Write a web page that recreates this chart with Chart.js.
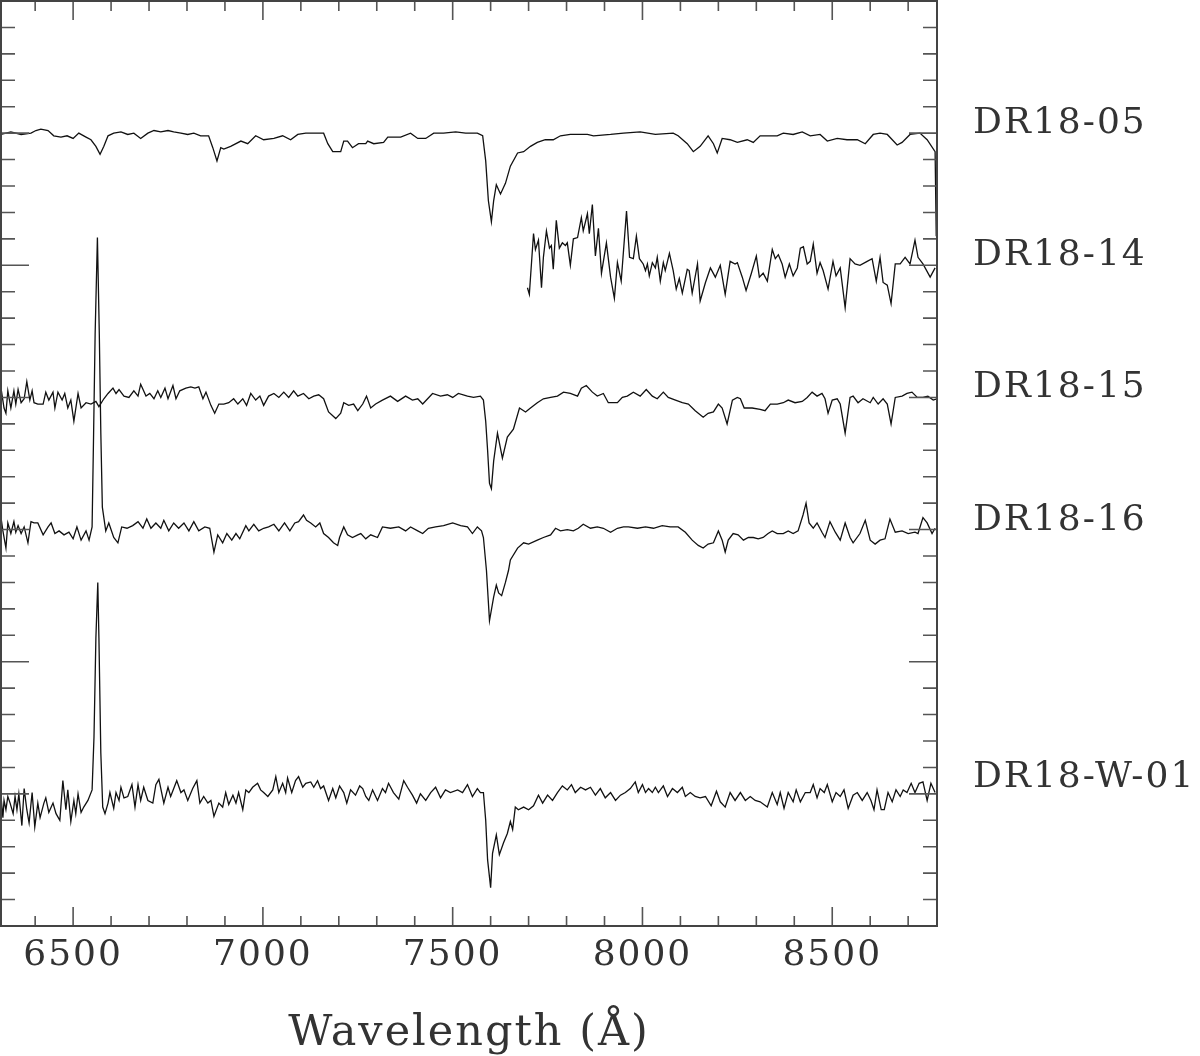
<!DOCTYPE html>
<html>
<head>
<meta charset="utf-8">
<script src="https://cdn.jsdelivr.net/npm/chart.js@4.4.1/dist/chart.umd.min.js"></script>
<style>
  html, body { margin: 0; padding: 0; background: #fff; }
  canvas { display: block; }
</style>
</head>
<body>
<canvas id="spectra" width="1200" height="1056"></canvas>
<script>
// --- spectrum names, vertical offsets and axis ticks ---
const names = ['DR18-05', 'DR18-14', 'DR18-15', 'DR18-16', 'DR18-W-01'];
const offsets = [5, 4, 3, 2, 0];
const labelLevels = [6, 5, 4, 3, 1.05];
const xTickValues = [6500, 7000, 7500, 8000, 8500];

// --- DR18-05 ---
const wl05 = [6310,6336,6363,6389,6402,6415,6434,6449,6468,6484,
  6500,6515,6534,6547,6560,6571,6581,6592,6607,6626,
  6644,6660,6678,6697,6713,6731,6750,6765,6784,6802,
  6818,6836,6847,6857,6868,6879,6889,6897,6915,6942,
  6960,6981,7002,7029,7052,7073,7092,7113,7134,7160,
  7171,7184,7205,7213,7223,7236,7252,7271,7276,7292,
  7318,7329,7363,7389,7408,7429,7450,7476,7508,7534,
  7565,7579,7587,7594,7602,7608,7615,7626,7639,7652,
  7671,7687,7705,7723,7744,7765,7784,7810,7855,7871,
  7916,7950,7994,8034,8081,8094,8118,8134,8152,8173,
  8187,8197,8210,8231,8250,8276,8292,8310,8355,8371,
  8397,8421,8442,8468,8487,8513,8539,8566,8587,8608,
  8626,8645,8671,8684,8705,8731,8750,8771,8774];
const fx05 = [0.99,1.01,0.99,1.00,1.02,1.03,1.02,0.98,0.97,0.98,
  0.96,1.00,0.97,0.95,0.90,0.84,0.90,0.98,1.00,1.01,
  0.99,1.00,0.96,1.00,1.02,1.01,1.02,1.01,1.00,0.99,
  1.00,0.98,0.98,0.98,0.89,0.79,0.89,0.88,0.90,0.94,
  0.92,0.98,0.95,0.96,0.98,0.95,0.99,1.00,1.00,1.00,
  0.92,0.86,0.86,0.94,0.94,0.89,0.92,0.92,0.94,0.92,
  0.93,0.97,0.97,1.00,0.96,0.96,1.00,1.00,1.01,1.00,
  1.00,0.98,0.79,0.49,0.33,0.49,0.61,0.54,0.62,0.75,
  0.85,0.86,0.90,0.93,0.95,0.95,0.98,0.99,0.99,0.98,
  0.99,1.00,1.01,0.99,1.00,0.98,0.92,0.86,0.90,0.98,
  0.92,0.85,0.96,0.95,0.93,0.95,0.93,0.98,0.98,1.00,
  0.99,1.01,0.98,0.99,0.94,0.96,0.95,0.95,0.92,0.99,
  1.00,0.99,0.91,0.93,0.99,1.00,0.95,0.86,0.22];

// --- DR18-14 ---
const wl14 = [7697,7702,7713,7718,7726,7734,7739,7747,7755,7760,
  7765,7773,7781,7789,7797,7802,7810,7818,7829,7839,
  7844,7855,7860,7868,7876,7884,7892,7905,7916,7926,
  7934,7944,7958,7966,7976,7984,7992,8002,8008,8013,
  8018,8026,8034,8039,8047,8055,8060,8071,8081,8089,
  8097,8105,8118,8123,8131,8145,8152,8166,8179,8192,
  8205,8218,8231,8244,8250,8263,8273,8287,8300,8308,
  8318,8329,8342,8350,8358,8368,8376,8387,8397,8408,
  8416,8424,8434,8442,8450,8460,8468,8476,8489,8502,
  8510,8521,8534,8547,8560,8573,8592,8605,8616,8626,
  8634,8645,8655,8666,8679,8692,8705,8718,8726,8739,
  8758,8771];
const fx14 = [0.83,0.78,1.24,1.12,1.19,0.83,1.06,1.26,1.13,1.15,
  0.97,1.34,1.13,1.17,1.15,1.17,1.00,1.20,1.21,1.36,
  1.26,1.39,1.24,1.46,1.07,1.28,0.94,1.17,0.91,0.75,
  1.02,0.88,1.41,1.06,1.05,1.22,1.05,1.01,0.96,1.01,
  0.92,1.02,0.98,1.06,0.88,1.02,0.96,1.09,0.96,0.82,
  0.90,0.79,0.97,0.96,0.79,1.01,0.73,0.87,0.98,0.91,
  1.00,0.78,1.03,1.01,1.02,0.91,0.81,0.94,1.07,0.91,
  0.94,0.88,1.12,1.05,1.08,1.01,0.91,1.01,0.92,0.98,
  1.13,1.14,1.01,1.03,1.16,0.94,1.02,0.96,0.82,1.03,
  0.92,0.98,0.68,1.05,1.01,1.00,1.03,1.05,0.88,1.06,
  0.87,0.85,0.71,1.01,1.01,1.06,1.01,1.19,1.06,1.01,
  0.91,0.98];

// --- DR18-15 ---
const wl15 = [6310,6318,6323,6328,6336,6344,6349,6355,6363,6371,
  6378,6386,6392,6397,6407,6421,6428,6436,6447,6452,
  6460,6471,6478,6486,6494,6502,6513,6521,6534,6547,
  6560,6568,6581,6592,6605,6613,6621,6634,6647,6660,
  6671,6678,6692,6702,6713,6723,6731,6742,6750,6763,
  6771,6781,6797,6810,6821,6831,6842,6850,6863,6873,
  6884,6897,6910,6923,6934,6947,6957,6968,6981,6992,
  7002,7015,7029,7042,7055,7068,7081,7092,7107,7121,
  7134,7147,7160,7173,7192,7205,7213,7226,7239,7250,
  7263,7273,7284,7297,7315,7336,7355,7376,7394,7408,
  7421,7434,7447,7468,7486,7500,7515,7539,7555,7573,
  7581,7587,7592,7597,7602,7608,7618,7631,7644,7660,
  7676,7692,7705,7723,7739,7758,7776,7792,7810,7829,
  7839,7852,7868,7881,7897,7910,7934,7947,7960,7976,
  7994,8010,8026,8039,8055,8068,8087,8105,8121,8139,
  8160,8173,8187,8200,8210,8223,8237,8250,8258,8268,
  8289,8310,8323,8337,8355,8371,8384,8402,8421,8434,
  8447,8460,8473,8481,8489,8500,8513,8521,8534,8547,
  8555,8568,8581,8600,8608,8621,8634,8645,8655,8666,
  8684,8697,8710,8724,8739,8752,8766,8776];
const fx15 = [1.07,0.92,0.88,1.05,0.92,1.05,0.95,1.06,0.96,0.99,
  1.12,0.98,1.05,0.96,0.95,0.95,1.04,0.98,1.04,0.92,
  1.04,0.98,1.03,0.92,0.98,0.82,1.03,0.92,0.96,0.95,
  0.97,0.93,0.99,1.03,1.07,1.03,1.06,1.01,1.00,1.05,
  1.01,1.10,1.01,1.03,0.99,1.05,1.00,1.07,0.99,1.09,
  0.99,1.05,1.07,1.08,1.07,1.08,0.99,1.04,0.94,0.88,
  0.95,0.95,0.96,0.99,0.95,0.99,0.94,1.03,0.98,1.01,
  0.94,1.01,1.03,1.00,1.04,1.00,1.05,1.01,1.03,0.99,
  1.01,1.02,0.99,0.89,0.84,0.88,0.96,0.94,0.95,0.90,
  0.95,1.01,0.92,0.95,0.98,1.01,0.97,1.01,0.98,0.99,
  0.95,0.99,1.03,1.01,1.02,1.00,1.03,1.01,1.00,1.01,
  0.98,0.82,0.60,0.35,0.31,0.52,0.73,0.54,0.70,0.76,
  0.92,0.89,0.92,0.96,0.99,1.00,1.01,1.04,1.03,1.01,
  1.07,1.09,1.04,1.01,1.03,0.96,0.96,1.00,1.01,1.04,
  1.01,1.06,1.01,0.99,1.04,1.00,0.98,0.96,0.95,0.90,
  0.85,0.88,0.89,0.95,0.92,0.80,0.98,1.00,0.99,0.92,
  0.92,0.91,0.90,0.95,0.95,0.96,0.98,0.96,0.97,1.00,
  1.04,1.01,1.03,0.99,0.88,0.98,0.99,0.95,0.73,1.00,
  1.01,0.96,0.99,0.96,1.00,0.95,0.99,0.95,0.80,1.00,
  1.01,1.03,1.04,1.00,1.00,1.01,0.98,0.99];

// --- DR18-16 ---
const wl16 = [6310,6315,6323,6328,6336,6344,6349,6355,6363,6371,
  6381,6389,6397,6407,6421,6434,6442,6452,6463,6476,
  6489,6500,6510,6521,6534,6542,6550,6554,6558,6564,
  6569,6573,6577,6586,6594,6607,6618,6628,6642,6657,
  6671,6684,6694,6705,6718,6731,6739,6752,6765,6778,
  6792,6805,6818,6831,6847,6860,6871,6881,6894,6905,
  6918,6929,6939,6955,6963,6976,6989,7002,7015,7029,
  7042,7057,7071,7084,7094,7107,7115,7126,7139,7150,
  7160,7173,7186,7197,7202,7213,7223,7236,7250,7258,
  7271,7284,7302,7315,7336,7358,7376,7389,7408,7421,
  7436,7455,7476,7500,7521,7539,7552,7565,7576,7581,
  7589,7597,7608,7615,7621,7629,7639,7647,7652,7671,
  7687,7700,7723,7739,7758,7771,7784,7802,7818,7831,
  7844,7863,7881,7897,7916,7934,7950,7963,7987,8008,
  8029,8052,8073,8094,8113,8131,8147,8160,8173,8187,
  8200,8210,8218,8226,8239,8252,8266,8279,8292,8305,
  8318,8331,8342,8355,8371,8384,8397,8410,8423,8431,
  8439,8450,8460,8473,8481,8494,8508,8521,8534,8547,
  8555,8573,8587,8600,8613,8626,8639,8652,8666,8684,
  8700,8718,8726,8739,8750,8763,8771];
const fx16 = [1.09,0.99,0.86,1.05,0.97,1.06,0.98,1.03,0.97,1.02,
  0.90,1.06,1.05,1.05,0.96,1.02,1.05,0.97,0.99,0.96,
  0.98,0.93,1.02,0.92,0.99,0.92,1.02,1.73,2.48,3.21,
  2.48,1.73,1.17,0.99,1.05,0.94,0.90,1.02,1.01,1.03,
  1.06,1.01,1.08,1.01,1.05,1.01,1.07,0.99,1.05,1.01,
  1.05,0.99,1.06,0.99,1.02,1.01,0.83,0.96,0.90,0.97,
  0.92,0.97,0.93,1.03,0.99,1.04,0.99,1.01,1.02,1.04,
  0.99,1.05,0.99,1.05,1.06,1.11,1.07,1.05,1.02,1.05,
  0.97,0.94,0.90,0.88,0.94,1.02,0.96,0.94,0.96,0.97,
  0.93,0.96,0.94,1.02,1.01,1.02,0.99,1.02,0.99,0.97,
  1.01,1.02,1.03,1.05,1.03,1.02,0.97,1.02,0.99,0.94,
  0.69,0.31,0.49,0.58,0.52,0.50,0.60,0.69,0.77,0.86,
  0.90,0.89,0.92,0.94,0.96,1.01,0.99,1.00,0.99,1.01,
  1.04,1.01,1.02,1.01,0.98,1.01,1.02,1.02,1.01,1.02,
  1.01,1.03,1.02,1.02,0.98,0.92,0.88,0.86,0.89,0.90,
  0.99,0.92,0.83,0.92,0.97,0.96,0.92,0.94,0.94,0.93,
  0.94,0.97,0.99,0.97,0.97,0.99,0.97,0.99,1.11,1.20,
  1.05,1.01,1.05,0.98,0.94,1.06,0.98,0.92,1.05,0.94,
  0.90,0.97,1.07,0.92,0.89,0.92,0.93,1.08,0.98,0.99,
  0.97,0.98,0.97,1.09,1.05,0.97,1.01];

// --- DR18-W-01 ---
const wlW01 = [6310,6315,6318,6323,6328,6334,6342,6347,6352,6357,
  6365,6371,6378,6384,6392,6399,6407,6413,6423,6428,
  6436,6447,6455,6465,6473,6481,6486,6494,6502,6507,
  6513,6521,6528,6539,6550,6555,6560,6565,6568,6573,
  6578,6584,6592,6597,6607,6613,6621,6626,6634,6644,
  6655,6663,6671,6678,6686,6697,6710,6718,6726,6739,
  6750,6757,6773,6784,6792,6802,6815,6826,6834,6844,
  6855,6863,6871,6884,6894,6902,6910,6921,6929,6936,
  6947,6955,6963,6973,6986,6994,7002,7013,7026,7034,
  7042,7052,7060,7065,7076,7086,7094,7105,7113,7126,
  7134,7144,7152,7160,7173,7184,7192,7202,7213,7221,
  7231,7244,7255,7263,7271,7279,7289,7302,7315,7323,
  7331,7344,7358,7371,7381,7394,7405,7415,7429,7442,
  7455,7468,7481,7494,7513,7526,7539,7552,7565,7573,
  7581,7587,7592,7600,7605,7615,7623,7634,7644,7652,
  7658,7665,7673,7687,7700,7713,7726,7737,7750,7763,
  7776,7789,7802,7813,7823,7837,7850,7863,7876,7889,
  7902,7916,7929,7942,7955,7968,7981,7989,8000,8008,
  8016,8026,8034,8042,8055,8066,8079,8092,8105,8113,
  8126,8139,8152,8166,8181,8195,8205,8218,8231,8244,
  8258,8271,8284,8297,8310,8329,8342,8355,8363,8373,
  8384,8397,8405,8416,8429,8442,8450,8460,8468,8479,
  8487,8500,8510,8521,8531,8542,8555,8566,8579,8592,
  8602,8610,8618,8629,8637,8647,8658,8668,8679,8687,
  8697,8708,8718,8729,8739,8750,8760,8771];
const fxW01 = [0.98,0.82,0.95,0.88,0.98,0.93,0.85,0.98,0.88,1.00,
  0.76,1.04,0.88,0.78,1.01,0.75,0.93,0.82,0.93,0.97,
  0.86,0.93,0.85,0.80,1.10,0.88,1.03,0.79,0.95,0.85,
  1.00,0.86,0.90,0.95,1.03,1.43,2.18,2.60,2.18,1.31,
  0.90,0.85,0.93,1.01,0.89,1.01,0.95,1.05,0.97,0.98,
  1.07,0.90,1.07,0.95,1.05,0.95,0.93,1.07,1.11,0.93,
  1.05,0.98,1.10,1.01,1.03,0.95,1.04,1.10,0.93,0.98,
  0.93,0.95,0.83,0.93,0.90,1.01,0.92,0.99,0.93,1.01,
  0.88,1.03,1.01,1.05,1.08,1.03,1.01,0.98,1.03,1.13,
  1.01,1.08,1.01,1.12,1.01,1.10,1.13,1.05,1.08,1.09,
  1.05,1.10,1.04,1.06,0.95,1.04,0.97,1.06,1.01,0.93,
  1.03,0.99,1.06,1.04,0.98,0.95,1.03,0.95,1.04,1.01,
  1.08,1.01,0.96,1.10,1.05,0.99,0.93,1.00,0.95,1.01,
  1.05,0.97,1.03,1.01,1.03,1.01,1.07,0.98,1.04,1.01,
  1.01,0.80,0.50,0.29,0.55,0.69,0.54,0.63,0.70,0.79,
  0.73,0.90,0.88,0.90,0.88,0.91,0.99,0.93,0.99,0.95,
  1.01,1.06,1.03,1.07,1.01,1.05,1.03,1.05,0.99,1.04,
  0.97,1.01,0.95,0.99,1.01,1.04,1.09,1.01,1.07,1.01,
  1.04,1.01,1.05,1.01,1.06,0.98,1.04,1.01,1.05,0.98,
  1.01,0.98,0.97,0.98,0.91,1.02,0.94,0.90,1.01,0.95,
  1.01,0.95,0.98,0.95,0.94,0.90,1.01,0.92,1.01,0.89,
  1.01,0.94,1.03,0.94,1.01,1.01,1.07,0.97,1.04,1.01,
  1.07,0.94,1.01,0.98,1.03,0.89,0.99,1.01,0.95,1.01,
  0.95,0.88,1.03,0.88,0.88,1.01,0.94,1.03,0.98,1.03,
  1.01,1.08,1.01,1.08,1.09,0.95,1.08,1.01];

const waves = [wl05, wl14, wl15, wl16, wlW01];
const fluxes = [fx05, fx14, fx15, fx16, fxW01];

const serif = '"DejaVu Serif", "Liberation Serif", serif';

const datasets = names.map((name, i) => ({
  label: name,
  data: waves[i].map((w, j) => ({ x: w, y: fluxes[i][j] + offsets[i] })),
  borderColor: '#111',
  borderWidth: 1.3,
  pointRadius: 0,
  tension: 0,
  fill: false
}));

// frame, inward tick marks and the object names on the right
const framePlugin = {
  id: 'frame',
  beforeDraw(chart) {
    chart.ctx.letterSpacing = '2px';
  },
  afterDatasetsDraw(chart) {
    const { ctx, chartArea: a, scales: { x, y } } = chart;
    ctx.save();
    ctx.strokeStyle = '#555';
    ctx.lineWidth = 1.6;
    ctx.beginPath();
    for (let w = 6400; w <= 8700; w += 100) {
      const px = x.getPixelForValue(w);
      const len = w % 500 === 0 ? 19 : 10;
      ctx.moveTo(px, a.bottom); ctx.lineTo(px, a.bottom - len);
      ctx.moveTo(px, a.top); ctx.lineTo(px, a.top + len);
    }
    for (let k = 1; k < 35; k++) {
      const py = y.getPixelForValue(k * 0.2);
      const len = k % 5 === 0 ? 28 : 14;
      ctx.moveTo(a.left, py); ctx.lineTo(a.left + len, py);
      ctx.moveTo(a.right, py); ctx.lineTo(a.right - len, py);
    }
    ctx.stroke();

    ctx.strokeStyle = '#444';
    ctx.lineWidth = 2;
    ctx.strokeRect(a.left, a.top, a.right - a.left, a.bottom - a.top);

    ctx.font = '36px ' + serif;
    ctx.fillStyle = '#333';
    ctx.textAlign = 'left';
    ctx.textBaseline = 'alphabetic';
    names.forEach((n, i) => {
      ctx.fillText(n, a.right + 36, y.getPixelForValue(labelLevels[i]));
    });
    ctx.restore();
  }
};

new Chart(document.getElementById('spectra').getContext('2d'), {
  type: 'line',
  data: { datasets },
  plugins: [framePlugin],
  options: {
    responsive: false,
    animation: false,
    events: [],
    layout: { padding: { left: 1, top: 1, right: 263, bottom: 0 } },
    plugins: {
      legend: { display: false },
      tooltip: { enabled: false }
    },
    scales: {
      x: {
        type: 'linear',
        min: 6310,
        max: 8776,
        afterBuildTicks: (scale) => { scale.ticks = xTickValues.map(v => ({ value: v })); },
        afterFit: (scale) => { scale.height = 130; },
        grid: { display: false },
        border: { display: false },
        ticks: {
          autoSkip: false,
          maxRotation: 0,
          padding: 0,
          color: '#333',
          font: { family: serif, size: 36 },
          callback: (v) => String(v)
        },
        title: {
          display: true,
          text: 'Wavelength (Å)',
          color: '#333',
          font: { family: serif, size: 43 },
          padding: { top: 0, bottom: -4 }
        }
      },
      y: {
        display: false,
        min: 0,
        max: 7
      }
    }
  }
});
</script>
</body>
</html>
